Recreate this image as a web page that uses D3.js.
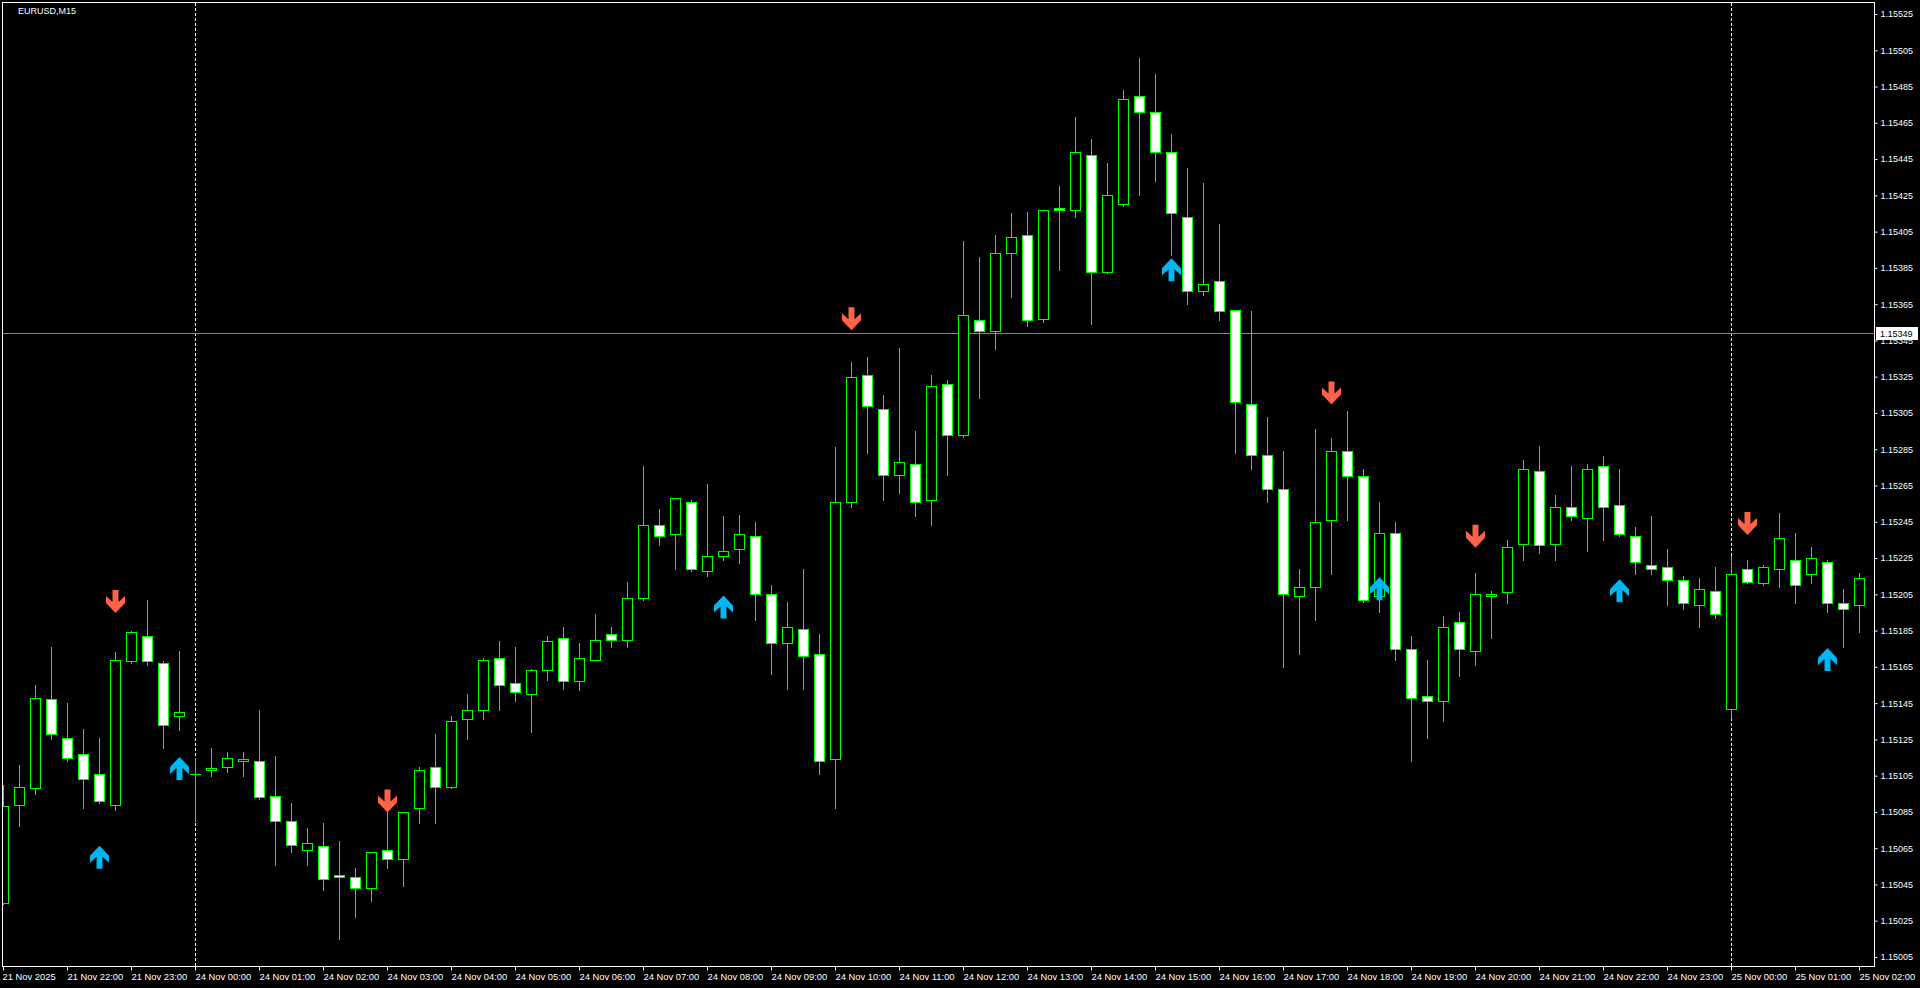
<!DOCTYPE html>
<html>
<head>
<meta charset="utf-8">
<title>EURUSD,M15</title>
<script src="https://cdn.jsdelivr.net/npm/d3@7"></script>
<style>
  html, body { margin: 0; padding: 0; background: #000; overflow: hidden; }
  svg { display: block; }
  text { font-family: "Liberation Sans", Arial, sans-serif; fill: #fff; }
</style>
</head>
<body>
<svg id="chart" width="1920" height="988"></svg>
<script>
// EURUSD M15, 21 Nov 21:00 .. 25 Nov 02:00

var opens = [
  1.15035, 1.15089, 1.15098, 1.15147, 1.15126, 1.15117, 1.15106, 1.15089, 1.15168, 1.15182,
  1.15167, 1.15138, 1.15106, 1.15108, 1.15110, 1.15113, 1.15113, 1.15094, 1.15080, 1.15064,
  1.15066, 1.15050, 1.15049, 1.15043, 1.15064, 1.15059, 1.15087, 1.15110, 1.15099, 1.15136,
  1.15141, 1.15170, 1.15156, 1.15150, 1.15163, 1.15181, 1.15157, 1.15169, 1.15183, 1.15180,
  1.15203, 1.15243, 1.15238, 1.15256, 1.15218, 1.15226, 1.15230, 1.15237, 1.15205, 1.15178,
  1.15186, 1.15172, 1.15114, 1.15256, 1.15326, 1.15307, 1.15271, 1.15277, 1.15257, 1.15321,
  1.15293, 1.15356, 1.15350, 1.15393, 1.15403, 1.15357, 1.15418, 1.15417, 1.15447, 1.15383,
  1.15420, 1.15480, 1.15471, 1.15449, 1.15413, 1.15372, 1.15378, 1.15362, 1.15310, 1.15282,
  1.15263, 1.15204, 1.15209, 1.15246, 1.15284, 1.15270, 1.15204, 1.15239, 1.15175, 1.15149,
  1.15146, 1.15190, 1.15174, 1.15204, 1.15206, 1.15233, 1.15273, 1.15233, 1.15253, 1.15247,
  1.15276, 1.15254, 1.15237, 1.15221, 1.15220, 1.15213, 1.15199, 1.15207, 1.15142, 1.15219,
  1.15211, 1.15219, 1.15224, 1.15216, 1.15223, 1.15200, 1.15199
];

var highs = [
  1.15100, 1.15111, 1.15155, 1.15176, 1.15145, 1.15131, 1.15126, 1.15173, 1.15185, 1.15202,
  1.15168, 1.15174, 1.15115, 1.15120, 1.15118, 1.15118, 1.15141, 1.15116, 1.15090, 1.15076,
  1.15079, 1.15069, 1.15054, 1.15063, 1.15085, 1.15085, 1.15110, 1.15128, 1.15138, 1.15150,
  1.15170, 1.15179, 1.15176, 1.15164, 1.15182, 1.15187, 1.15178, 1.15194, 1.15187, 1.15212,
  1.15276, 1.15252, 1.15258, 1.15257, 1.15266, 1.15248, 1.15249, 1.15245, 1.15210, 1.15201,
  1.15219, 1.15183, 1.15286, 1.15333, 1.15336, 1.15315, 1.15341, 1.15295, 1.15326, 1.15323,
  1.15400, 1.15391, 1.15403, 1.15415, 1.15416, 1.15417, 1.15430, 1.15468, 1.15456, 1.15443,
  1.15483, 1.15501, 1.15492, 1.15459, 1.15440, 1.15432, 1.15409, 1.15362, 1.15361, 1.15303,
  1.15284, 1.15219, 1.15296, 1.15291, 1.15306, 1.15274, 1.15256, 1.15245, 1.15182, 1.15169,
  1.15193, 1.15195, 1.15217, 1.15207, 1.15235, 1.15279, 1.15287, 1.15260, 1.15276, 1.15277,
  1.15281, 1.15274, 1.15242, 1.15248, 1.15230, 1.15215, 1.15214, 1.15220, 1.15226, 1.15224,
  1.15221, 1.15250, 1.15239, 1.15231, 1.15224, 1.15208, 1.15217
];

var lows = [
  1.15034, 1.15077, 1.15095, 1.15125, 1.15113, 1.15087, 1.15090, 1.15086, 1.15167, 1.15166,
  1.15120, 1.15130, 1.15080, 1.15105, 1.15107, 1.15105, 1.15092, 1.15056, 1.15063, 1.15056,
  1.15042, 1.15015, 1.15027, 1.15036, 1.15054, 1.15044, 1.15079, 1.15079, 1.15098, 1.15125,
  1.15136, 1.15141, 1.15146, 1.15129, 1.15158, 1.15153, 1.15152, 1.15169, 1.15176, 1.15176,
  1.15202, 1.15232, 1.15219, 1.15218, 1.15215, 1.15224, 1.15222, 1.15191, 1.15161, 1.15153,
  1.15153, 1.15106, 1.15087, 1.15253, 1.15283, 1.15257, 1.15261, 1.15248, 1.15243, 1.15271,
  1.15292, 1.15313, 1.15340, 1.15369, 1.15353, 1.15355, 1.15384, 1.15413, 1.15354, 1.15382,
  1.15419, 1.15425, 1.15433, 1.15392, 1.15365, 1.15370, 1.15356, 1.15283, 1.15274, 1.15256,
  1.15165, 1.15172, 1.15191, 1.15216, 1.15246, 1.15201, 1.15195, 1.15169, 1.15113, 1.15126,
  1.15135, 1.15160, 1.15166, 1.15181, 1.15200, 1.15224, 1.15228, 1.15224, 1.15246, 1.15229,
  1.15235, 1.15237, 1.15216, 1.15216, 1.15199, 1.15197, 1.15187, 1.15192, 1.15137, 1.15211,
  1.15210, 1.15209, 1.15200, 1.15211, 1.15195, 1.15176, 1.15184
];

var closes = [
  1.15088, 1.15099, 1.15148, 1.15128, 1.15115, 1.15103, 1.15091, 1.15169, 1.15184, 1.15168,
  1.15133, 1.15140, 1.15106, 1.15109, 1.15115, 1.15114, 1.15093, 1.15080, 1.15067, 1.15068,
  1.15048, 1.15049, 1.15043, 1.15063, 1.15059, 1.15085, 1.15108, 1.15099, 1.15135, 1.15141,
  1.15169, 1.15155, 1.15151, 1.15163, 1.15179, 1.15157, 1.15170, 1.15180, 1.15180, 1.15203,
  1.15243, 1.15237, 1.15258, 1.15219, 1.15226, 1.15229, 1.15238, 1.15205, 1.15178, 1.15187,
  1.15171, 1.15113, 1.15256, 1.15325, 1.15309, 1.15271, 1.15278, 1.15256, 1.15320, 1.15293,
  1.15359, 1.15350, 1.15393, 1.15402, 1.15356, 1.15417, 1.15417, 1.15449, 1.15383, 1.15425,
  1.15478, 1.15471, 1.15449, 1.15415, 1.15372, 1.15376, 1.15361, 1.15311, 1.15282, 1.15263,
  1.15205, 1.15209, 1.15245, 1.15284, 1.15270, 1.15202, 1.15239, 1.15175, 1.15148, 1.15146,
  1.15187, 1.15175, 1.15205, 1.15205, 1.15231, 1.15274, 1.15232, 1.15253, 1.15248, 1.15274,
  1.15253, 1.15238, 1.15223, 1.15219, 1.15213, 1.15200, 1.15208, 1.15194, 1.15216, 1.15212,
  1.15220, 1.15236, 1.15210, 1.15225, 1.15200, 1.15197, 1.15214
];

// signal arrows (bar index + price at the arrow's middle)
var sellIdx = [7, 24, 53, 83, 92, 109];
var sellPrice = [1.15201, 1.15091, 1.15357, 1.15316, 1.15237, 1.15244];
var buyIdx = [6, 11, 45, 73, 86, 101, 114];
var buyPrice = [1.15060, 1.15109, 1.15198, 1.15384, 1.15208, 1.15207, 1.15169];

// day separators (bar index of 24 Nov 00:00 and 25 Nov 00:00)
var separatorIdx = [12, 108];
var bidPrice = 1.15349;

var priceTicks = [
  1.15525, 1.15505, 1.15485, 1.15465, 1.15445, 1.15425, 1.15405, 1.15385, 1.15365,
  1.15345, 1.15325, 1.15305, 1.15285, 1.15265, 1.15245, 1.15225, 1.15205, 1.15185,
  1.15165, 1.15145, 1.15125, 1.15105, 1.15085, 1.15065, 1.15045, 1.15025, 1.15005
];

// one label every 4 bars
var timeLabels = [
  "21 Nov 2025", "21 Nov 22:00", "21 Nov 23:00",
  "24 Nov 00:00", "24 Nov 01:00", "24 Nov 02:00", "24 Nov 03:00", "24 Nov 04:00",
  "24 Nov 05:00", "24 Nov 06:00", "24 Nov 07:00", "24 Nov 08:00", "24 Nov 09:00",
  "24 Nov 10:00", "24 Nov 11:00", "24 Nov 12:00", "24 Nov 13:00", "24 Nov 14:00",
  "24 Nov 15:00", "24 Nov 16:00", "24 Nov 17:00", "24 Nov 18:00", "24 Nov 19:00",
  "24 Nov 20:00", "24 Nov 21:00", "24 Nov 22:00", "24 Nov 23:00",
  "25 Nov 00:00", "25 Nov 01:00", "25 Nov 02:00"
];

var GREEN = "#00ff00";

var svg = d3.select("#chart");

// bar index -> pixel column, price -> pixel row
var x = d3.scaleLinear().domain([0, opens.length - 1]).range([3, 3 + 16 * (opens.length - 1)]);
var y = d3.scaleLinear().domain([1.15005, 1.15525]).range([957, 14]);

svg.append("rect").attr("width", 1920).attr("height", 988).attr("fill", "#000");

svg.append("defs").append("clipPath").attr("id", "plot")
  .append("rect").attr("x", 3).attr("y", 3).attr("width", 1871).attr("height", 963);

var plot = svg.append("g").attr("clip-path", "url(#plot)");

// Day separators
plot.selectAll("line.sep").data(separatorIdx).enter().append("line")
  .attr("class", "sep")
  .attr("x1", d => x(d) + 0.5).attr("x2", d => x(d) + 0.5)
  .attr("y1", 3).attr("y2", 966)
  .attr("stroke", "#fff").attr("stroke-dasharray", "3,2");

// Bid line
var yBid = Math.round(y(bidPrice)) + 0.5;
plot.append("line")
  .attr("x1", 3).attr("x2", 1874).attr("y1", yBid).attr("y2", yBid)
  .attr("stroke", "#778899");

// Candles
var bars = opens.map((o, i) => ({ i: i, o: o, h: highs[i], l: lows[i], c: closes[i] }));

var candle = plot.selectAll("g.bar").data(bars).enter().append("g")
  .attr("class", "bar")
  .attr("shape-rendering", "crispEdges");

candle.append("line")
  .attr("x1", d => x(d.i) + 0.5).attr("x2", d => x(d.i) + 0.5)
  .attr("y1", d => Math.round(y(d.h)))
  .attr("y2", d => Math.round(y(d.l)) + 1)
  .attr("stroke", GREEN);

candle.each(function(d) {
  var g = d3.select(this);
  var cx = x(d.i);
  var yt = Math.round(y(Math.max(d.o, d.c)));
  var yb = Math.round(y(Math.min(d.o, d.c)));
  if (d.o !== d.c && yb - yt < 1) yb = yt + 1;
  if (yb === yt) {
    g.append("line")
      .attr("x1", cx - 5).attr("x2", cx + 6)
      .attr("y1", yt + 0.5).attr("y2", yt + 0.5)
      .attr("stroke", GREEN);
  } else {
    g.append("rect")
      .attr("x", cx - 4.5).attr("y", yt + 0.5)
      .attr("width", 10).attr("height", yb - yt)
      .attr("fill", d.c >= d.o ? "#000" : "#fff")
      .attr("stroke", GREEN);
  }
});

// Arrows
var downArrow = "M-3,-11.5L3,-11.5L3,0.5L9.5,-5.5L9.5,1.5L0,11.5L-9.5,1.5L-9.5,-5.5L-3,0.5Z";

plot.selectAll("path.sell").data(sellIdx).enter().append("path")
  .attr("class", "sell")
  .attr("d", downArrow)
  .attr("transform", (d, i) => "translate(" + (x(d) + 0.5) + "," + y(sellPrice[i]) + ")")
  .attr("fill", "#ff6347");

plot.selectAll("path.buy").data(buyIdx).enter().append("path")
  .attr("class", "buy")
  .attr("d", downArrow)
  .attr("transform", (d, i) => "translate(" + (x(d) + 0.5) + "," + y(buyPrice[i]) + ") scale(1,-1)")
  .attr("fill", "#00b7f4");

// Frame
svg.append("rect")
  .attr("x", 2.5).attr("y", 2.5).attr("width", 1872).attr("height", 964)
  .attr("fill", "none").attr("stroke", "#fff");

// Price axis
var priceAxis = svg.append("g")
  .attr("transform", "translate(1874.5,0)")
  .call(d3.axisRight(y).tickValues(priceTicks).tickFormat(d3.format(".5f")).tickSize(3).tickPadding(3));
priceAxis.select(".domain").remove();
priceAxis.selectAll("line").attr("stroke", "#fff");
priceAxis.selectAll("text")
  .attr("fill", "#fff")
  .style("font-family", '"Liberation Sans", Arial, sans-serif')
  .style("font-size", "9px");

// Time axis
var timeAxis = svg.append("g")
  .attr("transform", "translate(0,966.5)")
  .call(d3.axisBottom(x)
    .tickValues(timeLabels.map((t, i) => i * 4))
    .tickFormat((d, i) => timeLabels[i])
    .tickSize(4).tickPadding(3));
timeAxis.select(".domain").remove();
timeAxis.selectAll("line").attr("stroke", "#fff");
timeAxis.selectAll("text")
  .attr("fill", "#fff")
  .attr("text-anchor", "start")
  .attr("x", (d, i) => i === 0 ? -1 : 0)
  .style("font-family", '"Liberation Sans", Arial, sans-serif')
  .style("font-size", "9.4px");

// Bid price label
svg.append("rect")
  .attr("x", 1876).attr("y", yBid - 6.5).attr("width", 42).attr("height", 13)
  .attr("fill", "#fff");
svg.append("text")
  .attr("x", 1880).attr("y", yBid).attr("dy", "0.34em")
  .style("font-size", "9px")
  .attr("fill", "#000").style("fill", "#000")
  .text(d3.format(".5f")(bidPrice));

// Title
svg.append("text")
  .attr("x", 18).attr("y", 14)
  .style("font-size", "9px")
  .text("EURUSD,M15");
</script>
</body>
</html>
